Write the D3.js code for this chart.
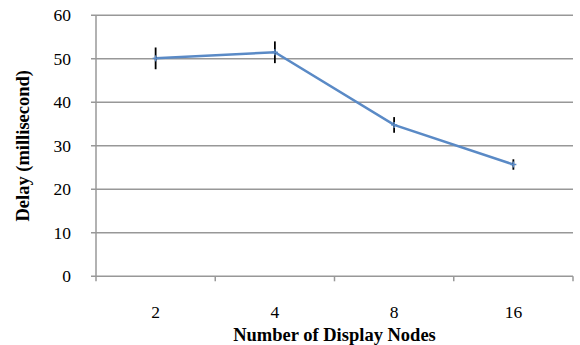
<!DOCTYPE html>
<html><head><meta charset="utf-8">
<script src="https://cdn.jsdelivr.net/npm/d3@7"></script>
<style>body{margin:0;background:#fff}svg{display:block}text{font-family:"Liberation Serif","Times New Roman","DejaVu Serif",serif}</style>
</head><body>
<svg id="c" width="580" height="345"></svg>
<script>
const categories = ["2", "4", "8", "16"];
const delays = [50.1, 51.5, 34.8, 25.7];
const errors = [2.5, 2.5, 1.8, 1.2];
const yTicks = [0, 10, 20, 30, 40, 50, 60];

const svg = d3.select("#c");
const pL = 96, pR = 573, pT = 15.3, pB = 276.3;
const x = d3.scaleBand().domain(categories).range([pL, pR]);
const y = d3.scaleLinear().domain([0, 60]).range([pB, pT]);

// gridlines
svg.append("g").selectAll("line").data(yTicks).join("line")
  .attr("x1", pL - 5).attr("x2", pR)
  .attr("y1", d => y(d)).attr("y2", d => y(d))
  .attr("stroke", "#989898").attr("stroke-width", 1.5);
// y axis line
svg.append("line").attr("x1", pL).attr("x2", pL).attr("y1", pT).attr("y2", pB)
  .attr("stroke", "#989898").attr("stroke-width", 1.5);
// x ticks at band boundaries
const bounds = categories.map(c => x(c)).concat([pR]);
svg.append("g").selectAll("line").data(bounds).join("line")
  .attr("x1", d => d).attr("x2", d => d).attr("y1", pB).attr("y2", pB + 5)
  .attr("stroke", "#989898").attr("stroke-width", 1.5);

// y tick labels
svg.append("g").selectAll("text").data(yTicks).join("text")
  .attr("x", 71).attr("y", d => y(d)).attr("dy", "0.35em")
  .attr("text-anchor", "end").attr("font-size", 17.5)
  .text(d => d);
// x tick labels
svg.append("g").selectAll("text").data(categories).join("text")
  .attr("x", d => x(d) + x.bandwidth() / 2).attr("y", 312).attr("dy", "0.35em")
  .attr("text-anchor", "middle").attr("font-size", 17.5)
  .text(d => d);

// axis titles
svg.append("text").attr("x", (pL + pR) / 2).attr("y", 335).attr("dy", "0.35em")
  .attr("text-anchor", "middle").attr("font-size", 18.5)
  .attr("font-weight", "bold").text("Number of Display Nodes");
svg.append("text").attr("transform", `translate(23,${(pT + pB) / 2}) rotate(-90)`)
  .attr("dy", "0.35em").attr("text-anchor", "middle")
  .attr("font-size", 18.5).attr("font-weight", "bold").text("Delay (millisecond)");

const cx = (d, i) => x(categories[i]) + x.bandwidth() / 2;
// line
const line = d3.line().x((d, i) => cx(d, i)).y(d => y(d));
svg.append("path").datum(delays).attr("d", line).attr("fill", "none")
  .attr("stroke", "#5a8ac6").attr("stroke-width", 2.5);
// error bars
svg.append("g").selectAll("line").data(delays).join("line")
  .attr("x1", cx).attr("x2", cx)
  .attr("y1", (d, i) => y(d + errors[i])).attr("y2", (d, i) => y(d - errors[i]))
  .attr("stroke", "#000").attr("stroke-width", 1.8);
// markers
const mk = svg.append("g").selectAll("g").data(delays).join("g")
  .attr("transform", (d, i) => `translate(${cx(d, i)},${y(d)})`);
mk.append("line").attr("x1", -3).attr("x2", 3).attr("stroke", "#5a8ac6").attr("stroke-width", 1.5);
mk.append("line").attr("y1", -3).attr("y2", 3).attr("stroke", "#5a8ac6").attr("stroke-width", 1.5);
</script>
</body></html>
